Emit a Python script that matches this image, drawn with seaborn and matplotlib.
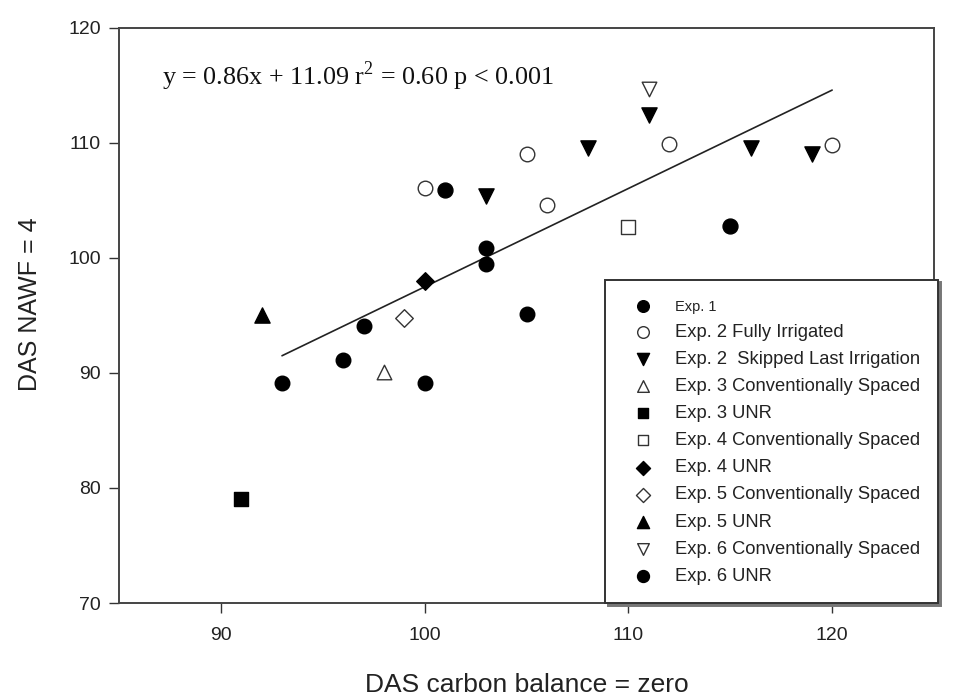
import matplotlib
matplotlib.use("Agg")
import matplotlib.pyplot as plt
import seaborn as sns
import pandas as pd

# ---- data ----
exp1_x = [93, 96, 97, 100, 103, 103, 105]
exp1_y = [89.1, 91.1, 94.1, 89.1, 100.9, 99.5, 95.1]
exp2f_x = [100, 105, 106, 112, 120]
exp2f_y = [106.1, 109.0, 104.6, 109.9, 109.8]
exp2s_x = [103, 108, 111, 116, 119]
exp2s_y = [105.4, 109.6, 112.4, 109.6, 109.0]
exp3c_x = [98]
exp3c_y = [90.1]
exp3u_x = [91]
exp3u_y = [79.0]
exp4c_x = [110]
exp4c_y = [102.7]
exp4u_x = [100]
exp4u_y = [98.0]
exp5c_x = [99]
exp5c_y = [94.8]
exp5u_x = [92]
exp5u_y = [95.0]
exp6c_x = [111]
exp6c_y = [114.7]
exp6u_x = [101, 115]
exp6u_y = [105.9, 102.8]

labels = ["Exp. 1", "Exp. 2 Fully Irrigated", "Exp. 2  Skipped Last Irrigation",
          "Exp. 3 Conventionally Spaced", "Exp. 3 UNR", "Exp. 4 Conventionally Spaced",
          "Exp. 4 UNR", "Exp. 5 Conventionally Spaced", "Exp. 5 UNR",
          "Exp. 6 Conventionally Spaced", "Exp. 6 UNR"]

fit_x = [93, 120]
fit_y = [91.5, 114.6]
equation = "y = 0.86x + 11.09 r$^2$ = 0.60 p < 0.001"

x_ticks = [90, 100, 110, 120]
y_ticks = [70, 80, 90, 100, 110, 120]

# ---- styling ----
sns.set_style("ticks")
plt.rcParams["font.family"] = ["Liberation Sans", "DejaVu Sans"]
plt.rcParams["mathtext.fontset"] = "custom"
plt.rcParams["mathtext.rm"] = "Liberation Serif"

series = [
    (exp1_x, exp1_y, "o", True, 110),
    (exp2f_x, exp2f_y, "o", False, 110),
    (exp2s_x, exp2s_y, "v", True, 120),
    (exp3c_x, exp3c_y, "^", False, 110),
    (exp3u_x, exp3u_y, "s", True, 90),
    (exp4c_x, exp4c_y, "s", False, 90),
    (exp4u_x, exp4u_y, "D", True, 80),
    (exp5c_x, exp5c_y, "D", False, 80),
    (exp5u_x, exp5u_y, "^", True, 120),
    (exp6c_x, exp6c_y, "v", False, 110),
    (exp6u_x, exp6u_y, "o", True, 115),
]

fig = plt.figure(figsize=(9.69, 6.98), dpi=100)
ax = fig.add_axes([0.1228, 0.1361, 0.8411, 0.8238])

for (xs, ys, m, filled, s), lab in zip(series, labels):
    df = pd.DataFrame({"x": xs, "y": ys})
    sns.scatterplot(data=df, x="x", y="y", ax=ax, marker=m, s=s,
                    color="black" if filled else "white",
                    edgecolor="black" if filled else "#333333",
                    linewidth=1.0, label=lab, zorder=3)

sns.lineplot(x=fit_x, y=fit_y, ax=ax, color="#222222", linewidth=1.2, zorder=2)

ax.text(87.1, 115.8, equation, family="Liberation Serif", fontsize=18.8,
        va="center", ha="left", color="#111111")

ax.set_xlim(85, 125)
ax.set_ylim(70, 120)
ax.set_xticks(x_ticks)
ax.set_yticks(y_ticks)
ax.tick_params(labelsize=14, direction="out", length=7, width=1, colors="#333333",
               labelcolor="#222222")
ax.tick_params(axis="x", pad=10)
ax.tick_params(axis="y", pad=6)
ax.set_xlabel("DAS carbon balance = zero", fontsize=19, labelpad=21, color="#222222")
ax.set_ylabel("DAS NAWF = 4", fontsize=18, color="#222222")
ax.yaxis.set_label_coords(-0.094, 0.52)
for sp in ax.spines.values():
    sp.set_visible(True)
    sp.set_color("#444444")
    sp.set_linewidth(1.4)

h, l = ax.get_legend_handles_labels()
leg = ax.legend(h[:11], l[:11], loc="lower right", bbox_to_anchor=(1.005, 0.0),
                borderaxespad=0, fontsize=13.2, frameon=True, fancybox=False,
                edgecolor="#333333", labelspacing=0.55, handletextpad=0.6,
                borderpad=1.0, handlelength=2.2, markerscale=0.8,
                shadow={"ox": 2, "oy": -2, "color": "#777777", "alpha": 1})
leg.get_frame().set_linewidth(1.4)
leg.get_texts()[0].set_fontsize(10.5)
for t in leg.get_texts():
    t.set_color("#222222")

fig.savefig("out.png", dpi=100)
